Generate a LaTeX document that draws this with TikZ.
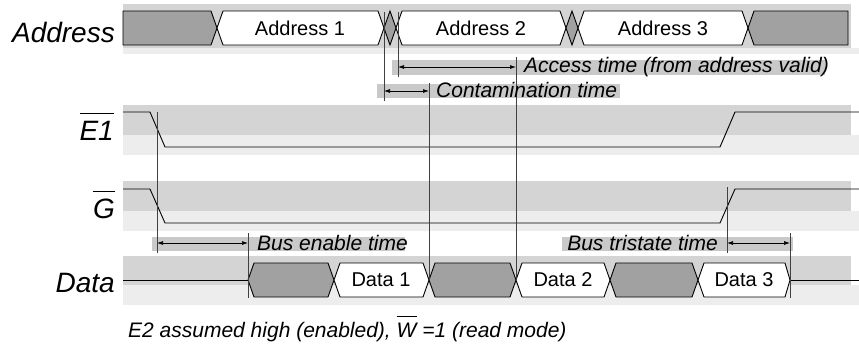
\documentclass[tikz,border=0pt]{standalone}
\usepackage{fontspec}
\setmainfont{Liberation Sans}
\usetikzlibrary{arrows.meta}

\tikzset{
  bandhi/.style={fill=black!17, draw=none},
  bandlo/.style={fill=black!7, draw=none},
  hilite/.style={fill=black!21, draw=none},
  busgray/.style={fill=black!37, draw=black, line width=0.9pt},
  buswhite/.style={fill=white, draw=black, line width=0.9pt},
  sig/.style={draw=black, line width=0.9pt},
  refline/.style={draw=black!75, line width=0.8pt},
  timearrow/.style={draw=black, line width=0.7pt,
    {Latex[length=6pt,width=4pt]}-{Latex[length=6pt,width=4pt]}},
  rowlab/.style={font=\fontsize{28}{32}\selectfont\itshape, inner sep=0pt},
  buslab/.style={font=\fontsize{20}{24}\selectfont, inner sep=0pt},
  notelab/.style={font=\fontsize{21}{25}\selectfont\itshape, inner sep=0pt},
}

% bar over a signal name
\newcommand{\barsig}[1]{\setbox0=\hbox{#1}\rlap{\raisebox{0.95em}{\rule{\wd0}{0.9pt}}}\box0\relax}

\begin{document}
\begin{tikzpicture}[x=1pt,y=-1pt]
\useasboundingbox (0,0) rectangle (859,349);

% background bands
\fill[bandhi] (123,4) rectangle (851,48);
\fill[bandlo] (123,48) rectangle (859,54);
\fill[bandhi] (123,105) rectangle (851,135);
\fill[bandlo] (123,135) rectangle (859,155);
\fill[bandhi] (123,181) rectangle (851,211);
\fill[bandlo] (123,211) rectangle (859,231);
\fill[bandhi] (123,256) rectangle (851,285);
\fill[bandlo] (123,285) rectangle (859,305);

% label highlights
\fill[hilite] (392,60) rectangle (825,75);
\fill[hilite] (377,84) rectangle (620,98);
\fill[hilite] (152,237) rectangle (405,251);
\fill[hilite] (562,237) rectangle (793,251);

% address bus
\draw[busgray] (123,11) -- (211,11) -- (217,28) -- (211,45) -- (123,45) -- cycle;
\draw[buswhite] (217,28) -- (223,11) -- (378,11) -- (384,28) -- (378,45) -- (223,45) -- cycle;
\draw[busgray] (384,28) -- (390,11) -- (396,28) -- (390,45) -- cycle;
\draw[buswhite] (396,28) -- (402,11) -- (560,11) -- (566,28) -- (560,45) -- (402,45) -- cycle;
\draw[busgray] (566,28) -- (572,11) -- (578,28) -- (572,45) -- cycle;
\draw[buswhite] (578,28) -- (584,11) -- (742,11) -- (748,28) -- (742,45) -- (584,45) -- cycle;
\draw[busgray] (748,28) -- (754,11) -- (848,11) -- (848,45) -- (754,45) -- cycle;
\node[buslab] (addr1) at (300,28) {Address 1};
\node[buslab] (addr2) at (481,28) {Address 2};
\node[buslab] (addr3) at (663,28) {Address 3};

% control signals
\draw[sig] (123,112) -- (150,112) -- (165,147) -- (720,147) -- (735,112) -- (859,112);
\draw[sig] (123,189) -- (150,189) -- (165,223) -- (720,223) -- (735,189) -- (859,189);

% data bus
\draw[sig] (123,280) -- (248,280);
\draw[busgray] (248,280) -- (254,263) -- (328,263) -- (334,280) -- (328,297) -- (254,297) -- cycle;
\draw[buswhite] (334,280) -- (340,263) -- (423,263) -- (429,280) -- (423,297) -- (340,297) -- cycle;
\draw[busgray] (429,280) -- (435,263) -- (510,263) -- (516,280) -- (510,297) -- (435,297) -- cycle;
\draw[buswhite] (516,280) -- (522,263) -- (604,263) -- (610,280) -- (604,297) -- (522,297) -- cycle;
\draw[busgray] (610,280) -- (616,263) -- (692,263) -- (698,280) -- (692,297) -- (616,297) -- cycle;
\draw[buswhite] (698,280) -- (704,263) -- (785,263) -- (790,280) -- (785,297) -- (704,297) -- cycle;
\draw[sig] (790,280) -- (859,280);
\node[buslab] (data1) at (381,280) {Data 1};
\node[buslab] (data2) at (563,280) {Data 2};
\node[buslab] (data3) at (744,280) {Data 3};

% reference lines
\draw[refline] (384,12) -- (384,101);
\draw[refline] (398,12) -- (398,77);
\draw[refline] (429,83) -- (429,280);
\draw[refline] (516,57) -- (516,280);
\draw[refline] (157,112) -- (157,253);
\draw[refline] (248,233) -- (248,298);
\draw[refline] (727,187) -- (727,253);
\draw[refline] (790,233) -- (790,298);

% timing arrows
\draw[timearrow] (398,67) -- (516,67);
\draw[timearrow] (384,91) -- (429,91);
\draw[timearrow] (157,243) -- (248,243);
\draw[timearrow] (727,243) -- (790,243);

% timing labels
\node[notelab, anchor=west] (access) at (524,67.5) {Access time (from address valid)};
\node[notelab, anchor=west] (contam) at (436,90) {Contamination time};
\node[notelab, anchor=west] (busen) at (257,243) {Bus enable time};
\node[notelab, anchor=east] (bustri) at (718,243) {Bus tristate time};

% row labels
\node[rowlab, anchor=base east] (lab-addr) at (115,42) {Address};
\node[rowlab, anchor=base east] (lab-e1) at (114,140) {\barsig{E1}};
\node[rowlab, anchor=base east] (lab-g) at (115,218) {\barsig{G}};
\node[rowlab, anchor=base east] (lab-data) at (115,292) {Data};

% footnote
\node[notelab, anchor=base west] (foot) at (128,337) {E2 assumed high (enabled), \barsig{W}\ =1 (read mode)};
\end{tikzpicture}
\end{document}
